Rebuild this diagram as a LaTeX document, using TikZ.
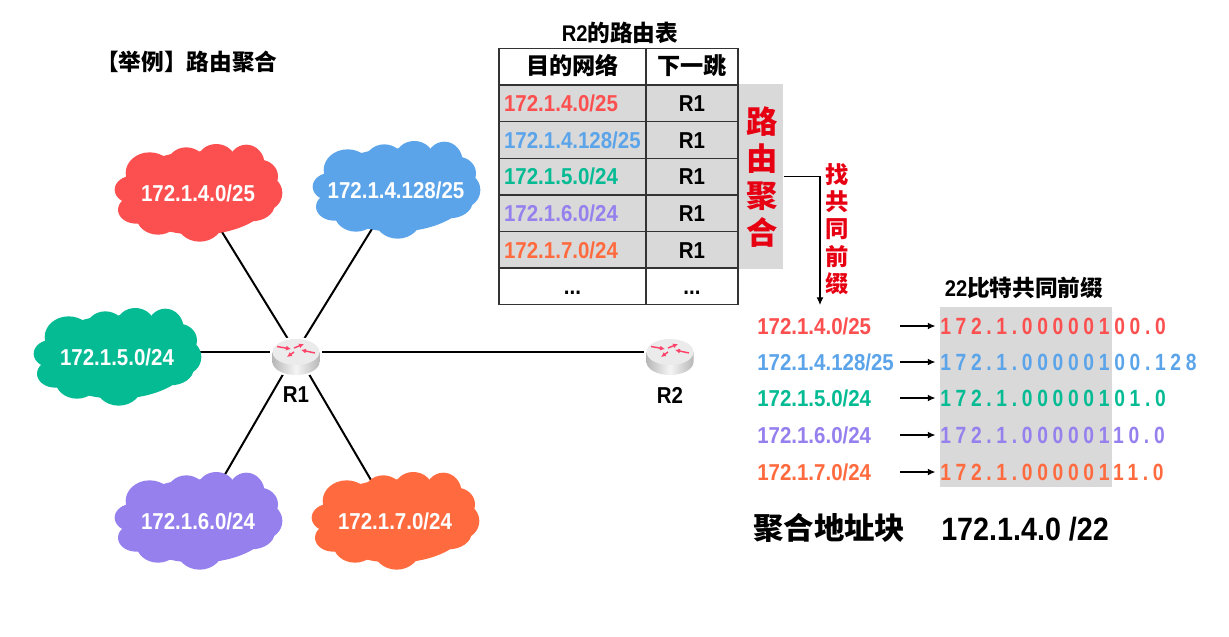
\documentclass[tikz,border=0pt]{standalone}
\usepackage{fontspec}
\setmainfont{Liberation Sans}[FakeStretch=0.89]
\newfontfamily\cjkfont{Noto Sans CJK SC}
\newfontfamily\bitfont{Liberation Sans}[FakeStretch=0.82,LetterSpace=20]
\usetikzlibrary{arrows.meta,backgrounds}
\definecolor{netred}{HTML}{FC5050}
\definecolor{netblue}{HTML}{5BA4EA}
\definecolor{netgreen}{HTML}{04BB94}
\definecolor{netpurple}{HTML}{9580EE}
\definecolor{netorange}{HTML}{FF6B3F}
\definecolor{mergered}{HTML}{E60012}
\definecolor{panel}{HTML}{D9D9D9}
\newcommand{\zh}[1]{{\cjkfont #1}}
\newcommand{\NetCloud}[5]{%
  % Same puffs for every network; the label node sits on top of them.
  \begin{scope}[shift={(#2,#3)},x=.25pt,y=-.25pt]
    \foreach \cx/\cy/\rx/\ry in {0/0/225/125,-195/-10/55/42,-145/-60/72/62,
      -35/-85/58/52,55/-95/58/52,145/-85/55/60,185/-50/55/50,195/0/58/55,
      160/35/70/50,105/50/80/45,5/80/72/66,-120/70/65/55,-185/50/55/42}
      \fill[#4] (\cx,\cy) ellipse [x radius=\rx,y radius=\ry];
  \end{scope}
  \node[plain,white] (#1) at (#2,#3) {#5};
}
\newcommand{\RouterIcon}[3]{%
  \begin{scope}[shift={(#2,#3)}]
    \fill[white] (-26,0) rectangle (26,10);
    \fill[white] (0,0) ellipse [x radius=26,y radius=15];
    \fill[white] (0,10) ellipse [x radius=26,y radius=15];
    \shade[left color=black!28,right color=black!28,middle color=black!4]
      (-23.5,0) -- (-23.5,10) arc [start angle=180,end angle=0,
      x radius=23.5,y radius=13] -- (23.5,0) -- cycle;
    \fill[black!8] (0,0) ellipse [x radius=23.5,y radius=13];
    \draw[rarrow] (-19,-5.5) -- (-5,-3);
    \draw[rarrow] (-2,-4) -- (8,-8);
    \draw[rarrow] (19,1) -- (5,-2);
    \draw[rarrow] (-2,0) -- (-9,5);
  \end{scope}
  \node[circle,inner sep=0pt,minimum size=0pt] (#1) at (#2,#3) {};
}

\begin{document}
\begin{tikzpicture}[x=.75pt,y=-.75pt,
 plain/.style={inner sep=0pt,font=\fontsize{17.25}{20}\selectfont\bfseries},
 heading/.style={inner sep=0pt,font=\fontsize{17}{20}\selectfont\bfseries},
 cell/.style={plain,draw=black!80,line width=.9pt,minimum height=27.5pt,
   text height=12.3pt,text depth=0pt},
 wide/.style={cell,text width=102.6pt,inner xsep=3.8pt,align=left},
 narrow/.style={cell,minimum width=69pt},
 bits/.style={plain,anchor=west,text height=12.6pt,text depth=0pt,
   font=\fontsize{17.6}{20}\selectfont\bfseries},
 tag/.style={plain,anchor=west,text width=107pt,align=left,
   text height=12.3pt,text depth=0pt},
 link/.style={line width=1.5pt},
 pointer/.style={-{Latex[length=2mm,width=1.8mm]},line width=.8pt},
 rarrow/.style={-{Latex[length=1.3mm,width=1.3mm]},line width=1.1pt,
   color=netred!85!magenta}]
\useasboundingbox (0,0) rectangle (1229,636);

% Networks and routers
\NetCloud{netA}{198}{193}{netred}{172.1.4.0/25}
\NetCloud{netB}{396}{190}{netblue}{172.1.4.128/25}
\NetCloud{netC}{117}{357}{netgreen}{172.1.5.0/24}
\NetCloud{netD}{198}{521}{netpurple}{172.1.6.0/24}
\NetCloud{netE}{395}{521}{netorange}{172.1.7.0/24}
\RouterIcon{rone}{296}{352}
\RouterIcon{rtwo}{670}{352}
\node[plain] (ronelabel) at (296,395) {R1};
\node[plain] (rtwolabel) at (670,395) {R2};
\begin{pgfonlayer}{background}
  \foreach \n in {netA,netB,netD,netE,rtwo}
    \draw[link] (rone) -- (\n);
  \draw[link] (rone) -- (rone -| netC);
\end{pgfonlayer}
\node[heading,anchor=west] (title) at (96,62) {\zh{【举例】路由聚合}};

% Routing table of R2
\node[plain,fill=panel,minimum width=33.8pt,minimum height=138.8pt,anchor=north west]
  (mergebox) at (738,84) {};
\node[heading] (tabletitle) at (620,33) {R2\zh{的路由表}};
\node[cell,font=\fontsize{17.4}{20}\selectfont\bfseries,minimum width=110.2pt,text height=12pt] (destcol) at (572.5,66.5) {\zh{目的网络}};
\node[narrow,font=\fontsize{17.4}{20}\selectfont\bfseries,text height=12pt] (hopcol) at (692,66.5) {\zh{下一跳}};
\foreach \i/\c/\t/\y in {1/netred/{172.1.4.0/25}/103.5,2/netblue/{172.1.4.128/25}/140,
  3/netgreen/{172.1.5.0/24}/176.5,4/netpurple/{172.1.6.0/24}/213.5,5/netorange/{172.1.7.0/24}/250}{
  \node[wide,fill=panel,text=\c] (dest\i) at (572.5,\y) {\t};
  \node[narrow,fill=panel] (hop\i) at (692,\y) {R1};
}
\node[wide,align=center] (dest6) at (572.5,286) {...};
\node[narrow] (hop6) at (692,286) {...};

% Summarisation arrow
\node[inner sep=0pt,text=mergered,align=center,font=\fontsize{23.5}{27.7}\selectfont\bfseries]
  (mergetext) at (762,177) {\zh{路}\\\zh{由}\\\zh{聚}\\\zh{合}};
\node[inner sep=0pt,text=mergered,align=center,font=\fontsize{17.5}{20.4}\selectfont\bfseries]
  (findtext) at (837,229) {\zh{找}\\\zh{共}\\\zh{同}\\\zh{前}\\\zh{缀}};
\coordinate (bend) at (820,305);
\draw[pointer] (mergebox.east) -| (bend);

% Binary comparison
\node[plain,fill=panel,minimum width=129pt,minimum height=135pt,anchor=north west]
  (prefixbox) at (940,307) {};
\node[heading] (prefixtitle) at (1024,288) {22\zh{比特共同前缀}};
\foreach \i/\c/\t/\b/\y in {1/netred/{172.1.4.0/25}/100.0/326,2/netblue/{172.1.4.128/25}/100.128/362,
  3/netgreen/{172.1.5.0/24}/101.0/398,4/netpurple/{172.1.6.0/24}/110.0/435,5/netorange/{172.1.7.0/24}/111.0/472}{
  \node[tag,text=\c] (addr\i) at (757,\y) {\t};
  \node[bits,text=\c] (bin\i) at (940,\y) {\bitfont 172.1.00000\b};
  \draw[pointer,shorten >=3.5pt] (addr\i.east) -- (bin\i.west);
}
\node[inner sep=0pt,anchor=west,font=\fontsize{22.8}{27}\selectfont\bfseries]
  (blockname) at (753,528) {\zh{聚合地址块}};
\node[inner sep=0pt,anchor=west,font=\fontsize{24.2}{28}\selectfont\bfseries]
  (blockaddr) at (941,529) {172.1.4.0 /22};
\end{tikzpicture}
\end{document}
